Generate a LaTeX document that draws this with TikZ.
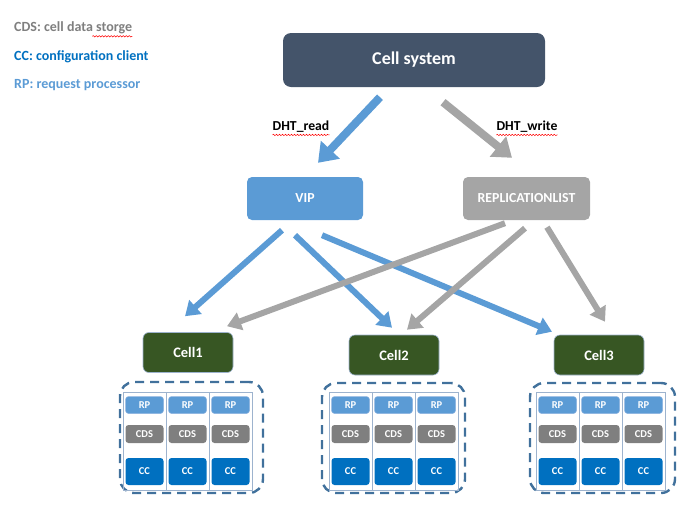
\documentclass[tikz,border=0pt]{standalone}
\usepackage{fontspec}
\setmainfont{Carlito}
\usetikzlibrary{arrows.meta,decorations.pathmorphing}
\definecolor{slate}{HTML}{44546A}
\definecolor{bblue}{HTML}{5B9BD5}
\definecolor{ggray}{HTML}{A5A5A5}
\definecolor{dgray}{HTML}{7F7F7F}
\definecolor{ccblue}{HTML}{0070C0}
\definecolor{cgreen}{HTML}{375623}
\definecolor{dashblue}{HTML}{41719C}
\definecolor{colline}{HTML}{9DB3CE}
\definecolor{rpedge}{HTML}{8FB4E0}
\begin{document}
\begin{tikzpicture}[x=1pt,y=-1pt,
  legend/.style={anchor=west, inner sep=0pt, font=\bfseries\fontsize{14}{16}\selectfont},
  lbl/.style={inner sep=0pt, font=\bfseries\fontsize{13.7}{15}\selectfont},
  topbox/.style={fill=slate, rounded corners=8pt, minimum width=262pt, minimum height=54pt, text=white, font=\bfseries\fontsize{18}{20}\selectfont},
  midbox/.style={rounded corners=5pt, minimum width=116pt, minimum height=43pt, inner sep=0pt, text=white, font=\bfseries\fontsize{13.8}{15}\selectfont},
  cellbox/.style={fill=cgreen, draw=colline, line width=0.6pt, rounded corners=6pt, minimum width=90pt, minimum height=40pt, text=white, font=\bfseries\fontsize{14.5}{16}\selectfont},
  colbox/.style={draw=colline, line width=0.9pt, minimum width=43pt, minimum height=98pt, inner sep=0pt},
  unit/.style={rounded corners=3pt, minimum width=38pt, inner sep=0pt, text=white, font=\bfseries\fontsize{10.5}{12}\selectfont},
  rpbox/.style={unit, fill=bblue, draw=rpedge, line width=0.5pt, minimum height=17pt},
  cdsbox/.style={unit, fill=dgray, minimum height=18pt},
  ccbox/.style={unit, fill=ccblue, minimum height=27pt},
  grp/.style={draw=dashblue, line width=2.4pt, dash pattern=on 9pt off 6pt, rounded corners=14pt, inner sep=0pt},
  bigarrow/.style={line width=8pt, -{Triangle[width=25pt,length=18pt]}},
  smallarrow/.style={line width=6pt, -{Triangle[width=18pt,length=14pt]}},
  squiggle/.style={draw=red, line width=0.5pt, decorate, decoration={snake, amplitude=0.7pt, segment length=3pt}}
]
\useasboundingbox (0,0) rectangle (688,512);

% legend
\node[legend, text=dgray] (leg1) at (14,28) {CDS: cell data storge};
\node[legend, text=ccblue] (leg2) at (14,57) {CC: configuration client};
\node[legend, text=bblue] (leg3) at (14,85) {RP: request processor};
\draw[squiggle] ([xshift=-40pt,yshift=-2pt]leg1.south east) -- ([yshift=-2pt]leg1.south east);

% main boxes
\node[topbox] (cs) at (414,60) {Cell system};
\node[midbox, fill=bblue] (vip) at (305,198.5) {VIP};
\node[midbox, fill=ggray, minimum width=127pt] (rep) at (526.5,198.5) {REPLICATIONLIST};

% labels
\node[lbl] (rd) at (301,127) {DHT\_read};
\node[lbl] (wr) at (527,127) {DHT\_write};
\draw[squiggle] ([yshift=-2pt]rd.south west) -- ([yshift=-2pt]rd.south east);
\draw[squiggle] ([yshift=-2pt]wr.south west) -- ([yshift=-2pt]wr.south east);

% cells
\node[cellbox] (cell1) at (188,352.5) {Cell1};
\node[cellbox] (cell2) at (394,355) {Cell2};
\node[cellbox] (cell3) at (599,355) {Cell3};

% groups
\node[grp, minimum width=143pt, minimum height=111pt] (grp1) at (191.5,437.5) {};
\node[grp, minimum width=143pt, minimum height=110pt] (grp2) at (393.5,438) {};
\node[grp, minimum width=145pt, minimum height=110pt] (grp3) at (602.5,438) {};

\foreach \k/\xo in {1/123, 2/329, 3/536} {
  \foreach \i in {0,1,2} {
    \pgfmathsetmacro{\cx}{\xo+21.5+43*\i}
    \node[colbox] (col\k\i) at (\cx,441) {};
    \node[rpbox] (rp\k\i) at (\cx,405) {RP};
    \node[cdsbox] (cds\k\i) at (\cx,434) {CDS};
    \node[ccbox] (cc\k\i) at (\cx,471.5) {CC};
  }
}

% top arrows
\draw[bigarrow, bblue] ([xshift=-34pt,yshift=-10pt]cs.south) -- ([xshift=13pt,yshift=14pt]vip.north);
\draw[bigarrow, ggray] ([xshift=29pt,yshift=-15pt]cs.south) -- ([xshift=-14.5pt,yshift=19pt]rep.north);

% bottom arrows
\draw[smallarrow, bblue] ([xshift=-23pt,yshift=-10pt]vip.south) -- ([xshift=-3pt,yshift=16pt]cell1.north);
\draw[smallarrow, bblue] ([xshift=-10pt,yshift=-15pt]vip.south) -- ([xshift=-2pt,yshift=7pt]cell2.north);
\draw[smallarrow, bblue] ([xshift=17pt,yshift=-15pt]vip.south) -- ([xshift=-47pt,yshift=3pt]cell3.north);
\draw[smallarrow, ggray] ([xshift=-21.5pt,yshift=-3pt]rep.south) -- ([xshift=39pt,yshift=6pt]cell1.north);
\draw[smallarrow, ggray] ([xshift=-1.5pt,yshift=-8pt]rep.south) -- ([xshift=13pt,yshift=5pt]cell2.north);
\draw[smallarrow, ggray] ([xshift=20.5pt,yshift=-7pt]rep.south) -- ([xshift=6pt,yshift=13pt]cell3.north);
\end{tikzpicture}
\end{document}
